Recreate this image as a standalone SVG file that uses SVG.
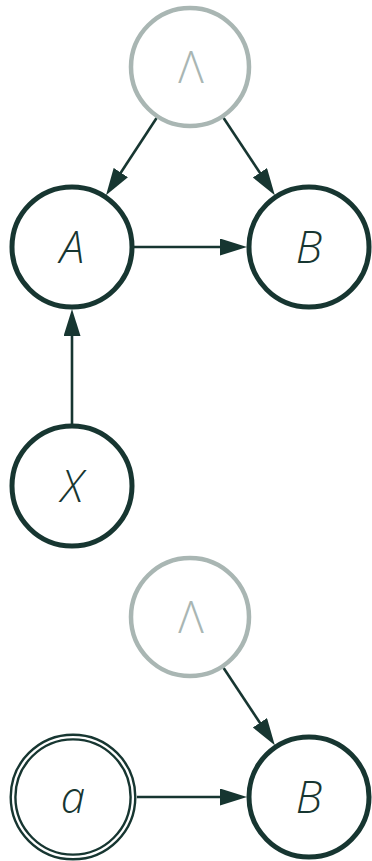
<svg xmlns="http://www.w3.org/2000/svg" width="372" height="861" viewBox="0 0 372 861">
  <style>
    .node { fill: #ffffff; stroke: #173631; stroke-width: 5; }
    .faint { fill: #ffffff; stroke: #a9b6b3; stroke-width: 4.5; }
    .ring { fill: none; stroke: #173631; stroke-width: 2.4; }
    .label { font-family: "Open Sans", "DejaVu Sans", sans-serif; font-size: 44px; font-weight: 300; font-style: italic; fill: #173631; text-anchor: middle; }
    .label-faint { font-family: "Open Sans", "DejaVu Sans", sans-serif; font-size: 44px; font-weight: 300; fill: #a9b6b3; text-anchor: middle; }
    .edge { stroke: #173631; stroke-width: 2.6; fill: none; marker-end: url(#arrow); }
  </style>
  <defs>
    <marker id="arrow" markerUnits="userSpaceOnUse" markerWidth="28" markerHeight="18" refX="19" refY="8.5" orient="auto">
      <path d="M0,0 L27,8.5 L0,17 z" fill="#173631"/>
    </marker>
  </defs>
  <rect width="372" height="861" fill="#ffffff"/>

  <!-- connectors -->
  <g id="edges">
    <line class="edge" x1="156.6" y1="118" x2="110.4" y2="188.5"/>
    <line class="edge" x1="223.6" y1="118" x2="270.4" y2="188.6"/>
    <line class="edge" x1="134" y1="247" x2="239" y2="247"/>
    <line class="edge" x1="72" y1="424" x2="72" y2="317"/>
    <line class="edge" x1="223.6" y1="668" x2="270.4" y2="738.6"/>
    <line class="edge" x1="137" y1="797" x2="239" y2="797"/>
  </g>

  <!-- upper graph -->
  <g id="lambda-top">
    <circle class="faint" cx="190" cy="67" r="59"/>
    <text class="label-faint" x="191" y="83">Λ</text>
  </g>
  <g id="node-A">
    <circle class="node" cx="72" cy="247" r="60"/>
    <text class="label" x="72" y="263">A</text>
  </g>
  <g id="node-B-top">
    <circle class="node" cx="309" cy="247" r="60"/>
    <text class="label" x="309" y="263">B</text>
  </g>
  <g id="node-X">
    <circle class="node" cx="72" cy="486" r="60"/>
    <text class="label" x="72" y="502">X</text>
  </g>

  <!-- lower graph -->
  <g id="lambda-bottom">
    <circle class="faint" cx="190" cy="617" r="59"/>
    <text class="label-faint" x="191" y="633">Λ</text>
  </g>
  <g id="node-a">
    <circle class="ring" cx="73" cy="797" r="62.3"/>
    <circle class="ring" cx="73" cy="797" r="57.6"/>
    <text class="label" x="73" y="813">a</text>
  </g>
  <g id="node-B-bottom">
    <circle class="node" cx="309" cy="797" r="60"/>
    <text class="label" x="309" y="813">B</text>
  </g>
</svg>
